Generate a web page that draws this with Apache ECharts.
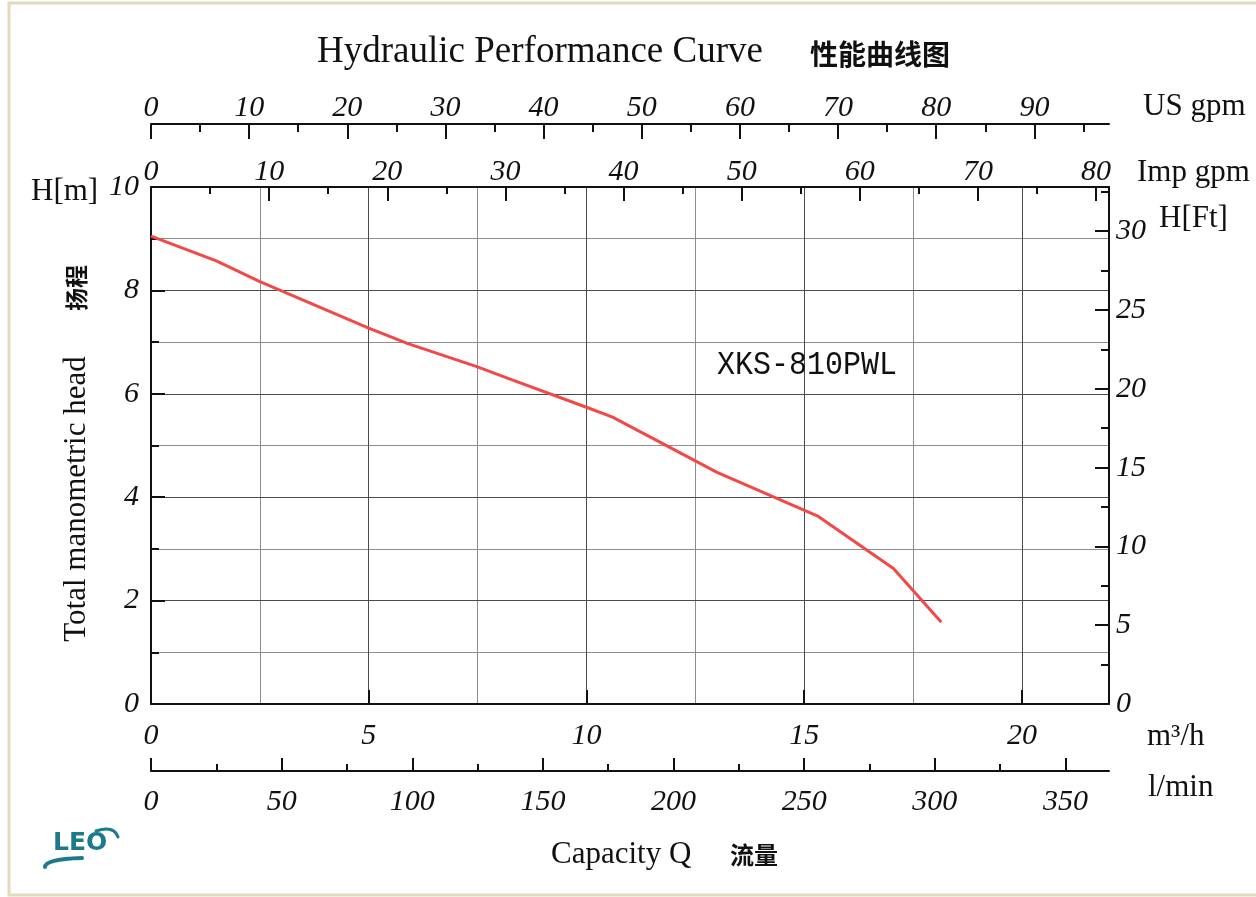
<!DOCTYPE html>
<html><head><meta charset="utf-8">
<script src="https://cdn.jsdelivr.net/npm/echarts@6/dist/echarts.min.js"></script>
<style>html,body{margin:0;padding:0;background:#fff}#c{width:1256px;height:897px}</style>
</head><body><div id="c"></div>
<script>
// ---- data ----
const flowM3h = [0, 1.5, 2.5, 5.0, 5.9, 7.5, 8.2, 10.0, 10.6, 13.0, 15.3, 17.05, 18.15];
const headM   = [9.05, 8.57, 8.17, 7.27, 6.97, 6.52, 6.3, 5.74, 5.55, 4.48, 3.64, 2.62, 1.58];
const modelName = 'XKS-810PWL';

const m3hTicks  = [0, 5, 10, 15, 20];
const lminTicks = [0, 50, 100, 150, 200, 250, 300, 350];
const lminMinor = [25, 75, 125, 175, 225, 275, 325];
const impTicks  = [0, 10, 20, 30, 40, 50, 60, 70, 80];
const impMinor  = [5, 15, 25, 35, 45, 55, 65, 75];
const usTicks   = [0, 10, 20, 30, 40, 50, 60, 70, 80, 90];
const usMinor   = [5, 15, 25, 35, 45, 55, 65, 75, 85, 95];
const hmTicks   = [0, 2, 4, 6, 8, 10];
const hmMinor   = [1, 3, 5, 7, 9];
const hftTicks  = [0, 5, 10, 15, 20, 25, 30];
const hftMinor  = [2.5, 7.5, 12.5, 17.5, 22.5, 27.5, 32.5];

const maxM3h = 22, maxLmin = 22 * 1000 / 60, maxImp = 81.1, maxUs = 97.6;
const maxHm = 10, maxHft = 10 * 3.2808;

const numFont = {fontFamily: '"Liberation Serif", serif', fontStyle: 'italic', fontSize: 30, color: '#111'};
const lineStyle = {color: '#111', width: 2};

function visAxis(o) {
  return Object.assign({
    type: 'value', z: 5,
    axisLine: {show: true, onZero: false, lineStyle: lineStyle},
    splitLine: {show: false}
  }, o);
}
function majorAxis(pos, min, max, ticks, len, margin, extra) {
  return visAxis(Object.assign({
    position: pos, min: min, max: max,
    axisTick: {show: true, inside: true, length: len, lineStyle: {color: '#111', width: 2}, customValues: ticks},
    axisLabel: Object.assign({show: true, margin: margin, customValues: ticks}, numFont)
  }, extra || {}));
}
function minorAxis(pos, min, max, ticks, len, extra) {
  return Object.assign({
    type: 'value', position: pos, min: min, max: max, z: 5,
    axisLine: {show: false, onZero: false},
    axisTick: {show: true, inside: true, length: len, lineStyle: {color: '#111', width: 2}, customValues: ticks},
    axisLabel: {show: false},
    splitLine: {show: false}
  }, extra || {});
}
function gridAxis(pos, max, interval, color, z) {
  return {
    type: 'value', position: pos, min: 0, max: max, interval: interval, z: z,
    axisLine: {show: false}, axisTick: {show: false}, axisLabel: {show: false},
    splitLine: {show: true, lineStyle: {color: color, width: 1}}
  };
}

const serif = '"Liberation Serif", serif';
const cjk = '"Noto Sans CJK SC", sans-serif';
function txt(x, y, text, font, align, extra) {
  return Object.assign({
    type: 'text', x: x, y: y, z: 20,
    style: {text: text, font: font, fill: '#111', textAlign: align || 'left', textVerticalAlign: 'middle'}
  }, extra || {});
}

const chart = echarts.init(document.getElementById('c'), null, {renderer: 'canvas'});
chart.setOption({
  backgroundColor: '#fff',
  animation: false,
  grid: {left: 151, right: 147, top: 187, bottom: 193, containLabel: false},
  xAxis: [
    majorAxis('bottom', 0, maxM3h, m3hTicks, 14, 17),
    majorAxis('top', 0, maxImp, impTicks, 14, 0),
    minorAxis('top', 0, maxImp, impMinor, 7),
    majorAxis('top', 0, maxUs, usTicks, 15, 1, {offset: 63}),
    minorAxis('top', 0, maxUs, usMinor, 8, {offset: 63}),
    majorAxis('bottom', 0, maxLmin, lminTicks, 13, 16, {offset: 67}),
    minorAxis('bottom', 0, maxLmin, lminMinor, 7, {offset: 67}),
    gridAxis('bottom', maxM3h, 5, '#4a4a4a', 2),
    gridAxis('bottom', maxM3h, 2.5, '#8e8e8e', 1)
  ],
  yAxis: [
    majorAxis('left', 0, maxHm, hmTicks, 14, 12),
    minorAxis('left', 0, maxHm, hmMinor, 8),
    majorAxis('right', 0, maxHft, hftTicks, 14, 7),
    minorAxis('right', 0, maxHft, hftMinor, 8),
    gridAxis('left', maxHm, 2, '#4a4a4a', 2),
    gridAxis('left', maxHm, 1, '#8e8e8e', 1)
  ],
  series: [{
    type: 'line', xAxisIndex: 0, yAxisIndex: 0, z: 10,
    data: flowM3h.map((q, i) => [q, headM[i]]),
    showSymbol: false, symbol: 'none', smooth: false,
    lineStyle: {color: '#f24848', width: 3}
  }],
  graphic: [
    {type: 'rect', z: 0, shape: {x: 9, y: 3, width: 1262, height: 892}, style: {fill: null, stroke: '#e4d8bd', lineWidth: 3}},
    txt(540, 52, 'Hydraulic Performance Curve', '37px ' + serif, 'center'),
    txt(810, 54, '性能曲线图', 'bold 28px ' + cjk),
    txt(1143, 107, 'US gpm', '31px ' + serif),
    txt(1137, 173, 'Imp gpm', '31px ' + serif),
    txt(1159, 219, 'H[Ft]', '31px ' + serif),
    txt(31, 192, 'H[m]', '31px ' + serif),
    txt(76, 288, '扬程', 'bold 23px ' + cjk, 'center', {rotation: Math.PI / 2}),
    txt(77, 499, 'Total manometric head', '31px ' + serif, 'center', {rotation: Math.PI / 2}),
    txt(717, 365, modelName, '30px "Liberation Mono", monospace', 'left', {scaleY: 1.1}),
    txt(1147, 737, 'm³/h', '31px ' + serif),
    txt(1148, 788, 'l/min', '31px ' + serif),
    txt(551, 855, 'Capacity Q', '31px ' + serif),
    txt(730, 855, '流量', 'bold 24px ' + cjk),
    // LEO logo
    {type: 'text', x: 53, y: 843, z: 20, style: {text: 'LEO', font: 'bold 25px "DejaVu Sans", sans-serif', fill: '#1b7b8c', textVerticalAlign: 'middle'}},
    {type: 'bezierCurve', z: 21, shape: {x1: 45, y1: 867, x2: 82, y2: 858, cpx1: 45, cpy1: 859}, style: {fill: null, stroke: '#1b7b8c', lineWidth: 4, lineCap: 'round'}},
    {type: 'bezierCurve', z: 21, shape: {x1: 96, y1: 831, x2: 118, y2: 837, cpx1: 114, cpy1: 825}, style: {fill: null, stroke: '#1b7b8c', lineWidth: 3, lineCap: 'round'}}
  ]
});
</script></body></html>
